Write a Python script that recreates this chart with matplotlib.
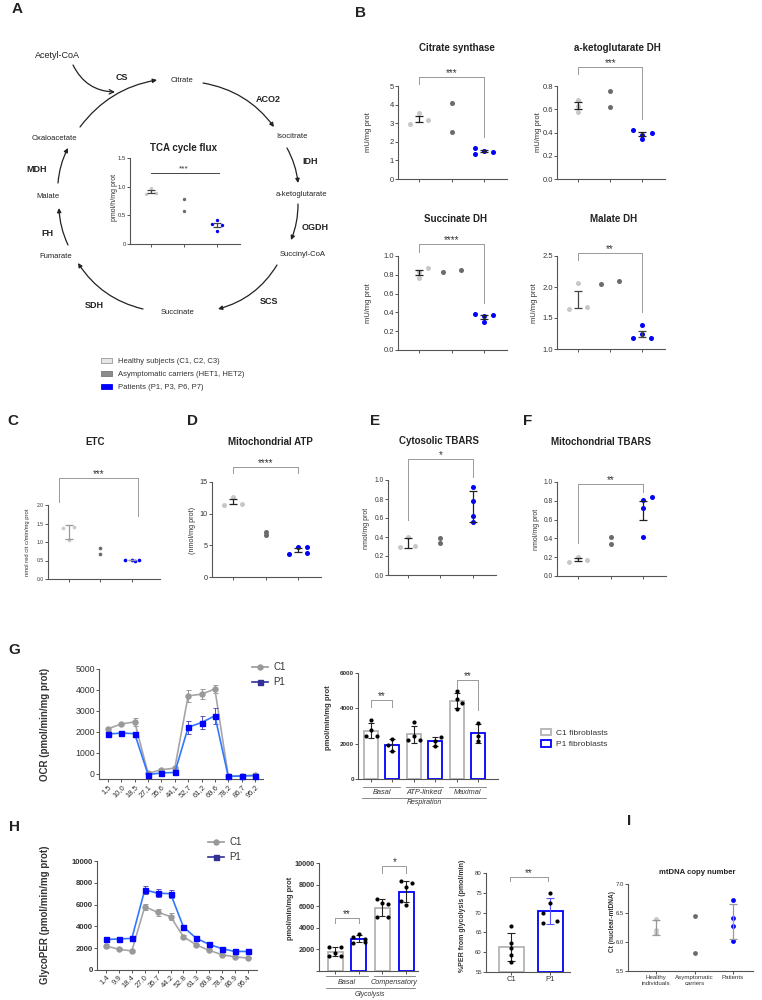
import numpy as np
import matplotlib
matplotlib.use('Agg')
import matplotlib.pyplot as plt
from matplotlib.patches import Rectangle
from matplotlib.lines import Line2D

plt.rcParams['font.family'] = ['Liberation Sans', 'DejaVu Sans']

W, H = 762, 1000

# ---------------- data ----------------
group_names = ['Healthy subjects (C1, C2, C3)', 'Asymptomatic carriers (HET1, HET2)',
               'Patients (P1, P3, P6, P7)']

tca_flux = [[0.97, 0.88, 0.89], [0.79, 0.57], [0.41, 0.35, 0.33, 0.23]]
citrate_synthase = [[2.95, 3.55, 3.15], [4.1, 2.55], [1.65, 1.35, 1.52, 1.45]]
akg_dh = [[0.68, 0.63, 0.58], [0.76, 0.62], [0.42, 0.38, 0.345, 0.40]]
succinate_dh = [[0.83, 0.77, 0.875], [0.83, 0.85], [0.38, 0.36, 0.30, 0.37]]
malate_dh = [[2.07, 1.64, 1.67], [2.05, 2.10], [1.38, 1.25, 1.18, 1.18]]
etc_activity = [[1.37, 1.40, 1.05], [0.85, 0.68], [0.51, 0.52, 0.51, 0.50]]
mito_atp = [[11.4, 12.7, 11.5], [7.1, 6.6], [3.6, 4.7, 4.8, 3.8]]
cyto_tbars = [[0.30, 0.40, 0.31], [0.39, 0.34], [0.93, 0.78, 0.62, 0.56]]
mito_tbars = [[0.15, 0.20, 0.17], [0.42, 0.34], [0.81, 0.72, 0.41, 0.84]]
mtdna = [[6.40, 6.20, 6.15], [6.44, 5.81], [6.73, 6.42, 6.27, 6.01]]
mtdna_names = ['Healthy\nindividuals', 'Asymptomatic\ncarriers', 'Patients']

ocr_time = ['1,5', '10,0', '18,5', '27,1', '35,6', '44,1', '52,7', '61,2', '69,6', '78,2', '86,7', '95,2']
ocr_c1 = [2150, 2380, 2480, 30, 200, 280, 3720, 3800, 4050, -100, -80, -60]
ocr_c1_err = [80, 50, 200, 50, 50, 50, 270, 250, 200, 50, 50, 50]
ocr_p1 = [1900, 1950, 1920, -30, 50, 70, 2220, 2450, 2770, -120, -100, -80]
ocr_p1_err = [80, 100, 100, 50, 50, 50, 300, 330, 370, 50, 50, 50]

resp_names = ['Basal', 'ATP-linked', 'Maximal']
resp_c1 = [[3340, 2770, 2430, 2430], [3230, 2210, 2210, 2430], [4980, 4530, 4300, 3960]]
resp_p1 = [[2260, 1920, 1580], [2380, 2150, 1870], [3170, 2430, 2150]]

per_time = ['1.4', '9.9', '18.4', '27.0', '35.7', '44.2', '52.8', '61.3', '69.8', '78.4', '86.9', '95.4']
per_c1 = [2200, 1900, 1750, 5800, 5300, 4900, 3050, 2300, 1800, 1400, 1200, 1100]
per_c1_err = [150, 100, 100, 300, 300, 300, 200, 100, 100, 100, 100, 100]
per_p1 = [2800, 2850, 2900, 7350, 7050, 7000, 3950, 2900, 2350, 1950, 1700, 1700]
per_p1_err = [100, 100, 100, 400, 350, 350, 200, 100, 100, 100, 100, 100]

glyc_names = ['Basal', 'Compensatory']
glyc_c1 = [[2200, 2200, 1700, 1400, 1400], [6700, 6300, 6200, 5000, 5000]]
glyc_p1 = [[3400, 3150, 3000, 2600, 2700], [8300, 8150, 7750, 6500, 6100]]

pct_names = ['C1', 'P1']
pct_glyc = [[66.7, 62.3, 61.0, 59.2, 57.6], [75.0, 72.3, 69.8, 67.3, 67.8]]

# ---------------- style ----------------
dot_colors = ['#c8c8c8', '#6b6b6b', '#0000ff']
c1_edge = '#b4b4b4'
p1_edge = '#0000ff'
txt = '#333333'

fig = plt.figure(figsize=(W / 100, H / 100), dpi=100)
ov = fig.add_axes([0, 0, 1, 1])
ov.set_xlim(0, W)
ov.set_ylim(H, 0)
ov.axis('off')


def box(l, t, r, b):
    ax = fig.add_axes([l / W, 1 - b / H, (r - l) / W, (b - t) / H])
    ax.patch.set_alpha(0)
    ax.spines['top'].set_visible(False)
    ax.spines['right'].set_visible(False)
    for s in ('left', 'bottom'):
        ax.spines[s].set_linewidth(0.8)
        ax.spines[s].set_color('#555')
    ax.tick_params(length=2, width=0.7, pad=1, colors='#555', labelcolor=txt)
    return ax


def ylab(x, y, s, fs, bold=False):
    ov.text(x, y, s, rotation=90, ha='center', va='center', fontsize=fs, color=txt,
            fontweight='bold' if bold else 'normal')


def title(x, y, s, fs=7):
    ov.text(x, y, s, ha='center', va='center', fontsize=fs, fontweight='bold', color='#222')


def letter(x, y, s):
    ov.text(x, y, s, ha='center', va='center', fontsize=11, fontweight='bold', color='#222')


def stars(ax, x, y, s, fs=7):
    ax.annotate(s, (x, y), xytext=(0, 3), textcoords='offset points', ha='center', va='center',
                fontsize=fs, color=txt, annotation_clip=False)


def dot_panel(ax, data, offs, err, ecol, size, ylim, yticks, ylabels, fs, xlim=(-0.65, 2.7)):
    for i, vals in enumerate(data):
        xs = [i + o for o in offs[i]]
        ax.scatter(xs, vals, s=size, color=dot_colors[i], linewidths=0, zorder=3, clip_on=False)
        if len(vals) > 2:
            v = np.array(vals)
            e = v.std(ddof=1)
            if err == 'sem':
                e = e / np.sqrt(len(v))
            ax.errorbar(i, v.mean(), yerr=e, fmt='none', ecolor=ecol[i], elinewidth=0.9,
                        capsize=3.2, capthick=0.9, zorder=4)
    ax.set_xlim(*xlim)
    ax.set_ylim(*ylim)
    ax.set_xticks([0, 1, 2])
    ax.set_xticklabels([])
    ax.set_yticks(yticks, ylabels, fontsize=fs)


def bracket(ax, x1, x2, y, yl, yr, s, fs=7, col='#999999'):
    ax.plot([x1, x1, x2, x2], [yl, y, y, yr], color=col, lw=0.7, clip_on=False)
    stars(ax, (x1 + x2) / 2, y, s, fs)


# ---------------- A: TCA cycle ----------------
letter(17, 9, 'A')
metabolites = [('Acetyl-CoA', 57, 56, 6.5), ('Citrate', 182, 81, 5.5), ('Isocitrate', 292, 136, 5.5),
               ('a-ketoglutarate', 301, 194, 5.5), ('Succinyl-CoA', 303, 255, 5.5),
               ('Succinate', 178, 313, 5.5), ('Fumarate', 56, 257, 5.5), ('Malate', 48, 197, 5.5),
               ('Oxaloacetate', 54, 138, 5.5)]
for s, x, y, f in metabolites:
    ov.text(x, y, s, ha='center', va='center', fontsize=f, color='#222')
enzymes = [('CS', 122, 78), ('ACO2', 268, 99), ('IDH', 310, 161), ('OGDH', 315, 228),
           ('SCS', 269, 302), ('SDH', 94, 306), ('FH', 47, 234), ('MDH', 37, 169)]
for s, x, y in enzymes:
    ov.text(x, y, s, ha='center', va='center', fontsize=6.5, fontweight='bold', color='#222')
arcs = [((80, 127), (157, 80), -0.2), ((203, 83), (274, 127), -0.2), ((287, 148), (298, 183), -0.1),
        ((298, 204), (291, 240), -0.1), ((277, 265), (218, 309), -0.2), ((143, 309), (78, 263), -0.2),
        ((68, 245), (59, 208), -0.1), ((58, 183), (68, 148), -0.1)]
for a, b, r in arcs:
    ov.annotate('', xy=b, xytext=a,
                arrowprops=dict(arrowstyle='-|>', connectionstyle='arc3,rad=%s' % r, lw=0.9,
                                color='#222', mutation_scale=6, shrinkA=0, shrinkB=0))
ov.annotate('', xy=(115, 92), xytext=(73, 65),
            arrowprops=dict(arrowstyle='->', connectionstyle='arc3,rad=0.3', lw=0.9,
                            color='#222', mutation_scale=8, shrinkA=0, shrinkB=0))

ax = box(130, 158, 240, 244)
title(183, 148, 'TCA cycle flux', 7)
dot_panel(ax, tca_flux, [[0, -0.15, 0.15], [0, 0], [0, -0.15, 0.15, 0]], 'sem',
          ['#444', '#444', '#444'], 6, (0, 1.5), [0, 0.5, 1.0, 1.5], ['0', '0.5', '1.0', '1.5'], 4.2)
ax.plot([0, 2.05], [1.24, 1.24], color='#444', lw=0.7)
stars(ax, 1.0, 1.24, '***', 6)
ylab(115, 197, 'pmol/h/mg prot', 5)

# legend for groups
handles = [Rectangle((0, 0), 1, 1, facecolor='#e6e6e6', edgecolor='#999', lw=0.6),
           Rectangle((0, 0), 1, 1, facecolor='#8c8c8c', edgecolor='#777', lw=0.6),
           Rectangle((0, 0), 1, 1, facecolor='#0000ff', edgecolor='#0000ff', lw=0.6)]
fig.legend(handles, group_names, loc='upper left', bbox_to_anchor=(94 / W, 1 - 351 / H),
           frameon=False, fontsize=5.5, handlelength=1.4, handleheight=0.7, labelspacing=0.75,
           handletextpad=0.8, labelcolor=txt)

# ---------------- B ----------------
letter(360, 13, 'B')
ax = box(398, 86, 507, 179)
title(457, 48, 'Citrate synthase')
dot_panel(ax, citrate_synthase, [[-0.28, 0, 0.28], [0, 0], [-0.28, -0.28, 0, 0.28]], 'sem',
          ['#222'] * 3, 13, (0, 5), range(6), [str(i) for i in range(6)], 5.5)
bracket(ax, 0, 2, 5.48, 5.1, 2.26, '***')
ylab(368, 132, 'mU/mg prot', 5.5)

ax = box(557, 86, 665, 179)
title(617, 48, 'a-ketoglutarate DH')
yt = [0, 0.2, 0.4, 0.6, 0.8]
dot_panel(ax, akg_dh, [[0, 0, 0], [0, 0], [-0.28, 0, 0, 0.3]], 'sem',
          ['#222'] * 3, 13, (0, 0.8), yt, ['%.1f' % v for v in yt], 5.5)
bracket(ax, 0, 2, 0.963, 0.903, 0.516, '***')
ylab(538, 132, 'mU/mg prot', 5.5)

ax = box(398, 256, 507, 350)
title(456, 219, 'Succinate DH')
yt = [0, 0.2, 0.4, 0.6, 0.8, 1.0]
dot_panel(ax, succinate_dh, [[0, 0, 0.28], [-0.28, 0.28], [-0.28, 0, 0, 0.28]], 'sem',
          ['#222'] * 3, 13, (0, 1.0), yt, ['%.1f' % v for v in yt], 5.5)
bracket(ax, 0, 2, 1.128, 1.043, 0.5, '****')
ylab(368, 303, 'mU/mg prot', 5.5)

ax = box(557, 256, 665, 349)
title(614, 219, 'Malate DH')
yt = [1.0, 1.5, 2.0, 2.5]
dot_panel(ax, malate_dh, [[0, -0.28, 0.28], [-0.28, 0.28], [0, 0, -0.28, 0.28]], 'sem',
          ['#444'] * 3, 13, (1.0, 2.5), yt, ['%.1f' % v for v in yt], 5.5)
bracket(ax, 0, 2, 2.548, 2.435, 1.597, '**')
ylab(534, 303, 'mU/mg prot', 5.5)

# ---------------- C - F ----------------
letter(13, 421, 'C')
ax = box(48, 505, 160, 579)
title(95, 442, 'ETC')
yt = [0, 0.5, 1.0, 1.5, 2.0]
dot_panel(ax, etc_activity, [[-0.16, 0.16, 0], [0, 0], [-0.22, 0, 0.22, 0.1]], 'sd',
          ['#999', '#999', '#999'], 7, (0, 2.0), yt, ['%.1f' % v for v in yt], 3.6, xlim=(-0.65, 2.9))
bracket(ax, -0.3, 2.2, 2.73, 2.08, 1.70, '***')
ylab(28, 542, 'nmol red cit c/min/mg prot', 4.2)

letter(193, 421, 'D')
ax = box(212, 482, 321, 577)
title(270, 442, 'Mitochondrial ATP')
dot_panel(ax, mito_atp, [[-0.28, 0, 0.28], [0, 0], [-0.28, 0, 0.28, 0.28]], 'sem',
          ['#222'] * 3, 13, (0, 15), [0, 5, 10, 15], ['0', '5', '10', '15'], 5.2)
bracket(ax, 0, 2, 17.37, 16.4, 16.4, '****')
ylab(193, 530, '(nmol/mg prot)', 5.2)

letter(375, 421, 'E')
ax = box(388, 480, 496, 575)
title(439, 441, 'Cytosolic TBARS')
yt = [0, 0.2, 0.4, 0.6, 0.8, 1.0]
dot_panel(ax, cyto_tbars, [[-0.24, 0, 0.22], [0, 0], [0, 0, 0, 0]], 'sd',
          ['#222'] * 3, 13, (0, 1.0), yt, ['%.1f' % v for v in yt], 4.8, xlim=(-0.6, 2.7))
bracket(ax, 0, 2, 1.22, 0.58, 1.03, '*')
ylab(366, 528, 'nmol/mg prot', 5)

letter(528, 421, 'F')
ax = box(557, 482, 666, 576)
title(601, 442, 'Mitochondrial TBARS')
dot_panel(ax, mito_tbars, [[-0.28, 0, 0.28], [0, 0], [0, 0, 0, 0.28]], 'sem',
          ['#222'] * 3, 13, (0, 1.0), yt, ['%.1f' % v for v in yt], 4.8)
bracket(ax, 0, 2, 0.98, 0.35, 0.89, '**')
ylab(537, 529, 'nmol/mg prot', 5)

# ---------------- G ----------------
letter(14, 650, 'G')


def kinetic(ax, c1, c1e, p1, p1e, labels, ylim, yticks, fs, bold):
    x = np.arange(len(labels))
    ax.errorbar(x, c1, yerr=c1e, color='#a6a6a6', lw=1.2, marker='o', ms=3.6, mfc='#999', mec='#999',
                ecolor='#999', elinewidth=0.7, capsize=1.8, capthick=0.7, zorder=3, clip_on=False)
    ax.errorbar(x, p1, yerr=p1e, color='#3377ff', lw=1.2, marker='s', ms=3.6, mfc='#0000ff', mec='#0000ff',
                ecolor='#5555bb', elinewidth=0.7, capsize=1.8, capthick=0.7, zorder=4, clip_on=False)
    ax.set_xticks(x, labels, rotation=45, ha='right', rotation_mode='anchor', fontsize=5.5)
    ax.set_ylim(*ylim)
    ax.set_yticks(yticks, [str(v) for v in yticks], fontsize=fs, fontweight='bold' if bold else 'normal')
    hs = [Line2D([], [], color='#999', marker='o', ms=3.6, lw=1.2),
          Line2D([], [], color='#303095', marker='s', ms=3.6, lw=1.2)]
    return hs


ax = box(99, 669, 263, 779)
hs = kinetic(ax, ocr_c1, ocr_c1_err, ocr_p1, ocr_p1_err, ocr_time, (-240, 5000),
             [0, 1000, 2000, 3000, 4000, 5000], 6.3, False)
ax.set_xlim(-0.67, 11.6)
ax.legend(hs, ['C1', 'P1'], loc='upper left', bbox_to_anchor=(0.88, 1.14), frameon=False,
          fontsize=7, handlelength=1.6, labelspacing=0.5, handletextpad=0.6, labelcolor=txt)
ylab(45, 724, 'OCR (pmol/min/mg prot)', 7, True)


def paired_bars(ax, c1, p1, c1_offs, p1_offs, width):
    for k in range(len(c1)):
        for j, (vals, offs, col) in enumerate(((c1[k], c1_offs[k], c1_edge), (p1[k], p1_offs[k], p1_edge))):
            pos = 2 * k + j
            v = np.array(vals)
            ax.bar(pos, v.mean(), width, facecolor='white', edgecolor=col, linewidth=1.3, zorder=2)
            ax.errorbar(pos, v.mean(), yerr=v.std(ddof=1), fmt='none', ecolor='#222', elinewidth=0.8,
                        capsize=2, capthick=0.8, zorder=3)
            ax.scatter([pos + o for o in offs], v, s=9, color='black', zorder=4, linewidths=0)
    ax.set_xticks(range(2 * len(c1)))
    ax.set_xticklabels([])


def group_rows(ax, names, axh, d1, d2, d3, d4, top_name, fs):
    tr = ax.get_xaxis_transform()
    for k, s in enumerate(names):
        c = 2 * k + 0.5
        ax.plot([c - 0.87, c + 0.87], [-d1 / axh] * 2, color='#777', lw=0.6, transform=tr, clip_on=False)
        ax.text(c, -d2 / axh, s, ha='center', va='center', fontsize=fs, style='italic', color=txt, transform=tr)
    last = 2 * len(names) - 1.5
    ax.plot([-0.4, last + 0.87], [-d3 / axh] * 2, color='#777', lw=0.6, transform=tr, clip_on=False)
    ax.text((last + 0.47) / 2, -d4 / axh, top_name, ha='center', va='center', fontsize=fs - 0.3,
            style='italic', color=txt, transform=tr)


ax = box(358, 673, 498, 779)
paired_bars(ax, resp_c1, resp_p1,
            [[0, 0, -0.25, 0.27], [0, -0.25, 0.27, 0], [0, 0, 0.25, 0]],
            [[0, -0.2, 0], [0.27, 0, 0], [0, 0, 0]], 0.65)
ax.set_xlim(-0.6, 5.93)
ax.set_ylim(0, 6000)
ax.set_yticks([0, 2000, 4000, 6000], ['0', '2000', '4000', '6000'], fontsize=4.6, fontweight='bold')
bracket(ax, 0, 1, 4470, 4070, 4070, '**')
bracket(ax, 4, 5, 5600, 5150, 3900, '**')
group_rows(ax, resp_names, 106, 8, 13, 19, 24, 'Respiration', 5.3)
ylab(328, 718, 'pmol/min/mg prot', 5.5, True)
bh = [Rectangle((0, 0), 1, 1, facecolor='white', edgecolor=c1_edge, lw=1.3),
      Rectangle((0, 0), 1, 1, facecolor='white', edgecolor=p1_edge, lw=1.3)]
fig.legend(bh, ['C1 fibroblasts', 'P1 fibroblasts'], loc='upper left', bbox_to_anchor=(533 / W, 1 - 721 / H),
           frameon=False, fontsize=6, handlelength=1.3, handleheight=0.8, labelspacing=0.45,
           handletextpad=0.5, labelcolor=txt)

# ---------------- H ----------------
letter(14, 827, 'H')
ax = box(97, 861, 257, 970)
hs = kinetic(ax, per_c1, per_c1_err, per_p1, per_p1_err, per_time, (0, 10000),
             [0, 2000, 4000, 6000, 8000, 10000], 5.6, True)
ax.set_xlim(-0.7, 11.7)
ax.legend(hs, ['C1', 'P1'], loc='upper left', bbox_to_anchor=(0.64, 1.3), frameon=False,
          fontsize=7, handlelength=1.6, labelspacing=0.5, handletextpad=0.6, labelcolor=txt)
ylab(45, 915, 'GlycoPER (pmol/min/mg prot)', 7, True)

ax = box(319, 863, 418, 971)
paired_bars(ax, glyc_c1, glyc_p1,
            [[-0.25, 0.25, 0, -0.25, 0.25], [-0.25, 0, 0.25, -0.25, 0.25]],
            [[0, -0.25, 0.25, -0.25, 0.25], [-0.2, 0.25, 0, -0.2, 0]], 0.63)
ax.set_xlim(-0.68, 3.5)
ax.set_ylim(0, 10000)
ax.set_yticks([0, 2000, 4000, 6000, 8000, 10000], ['', '2000', '4000', '6000', '8000', '10000'],
              fontsize=5.3, fontweight='bold')
bracket(ax, 0, 1, 4900, 4450, 4450, '**')
bracket(ax, 2, 3, 9700, 9100, 9100, '*')
group_rows(ax, glyc_names, 108, 5, 12, 17, 24, 'Glycolysis', 5.2)
ylab(290, 908, 'pmol/min/mg prot', 5.4, True)

ax = box(486, 873, 570, 972)
pct_offs = [[0, 0, 0, 0, 0], [0, 0, -0.17, -0.17, 0.18]]
for i, vals in enumerate(pct_glyc):
    v = np.array(vals)
    ax.bar(i, v.mean() - 55, 0.64, bottom=55, facecolor='white', edgecolor=[c1_edge, p1_edge][i],
           linewidth=1.3, zorder=2)
    ax.errorbar(i, v.mean(), yerr=v.std(ddof=1), fmt='none', ecolor=['#222', '#5555ff'][i],
                elinewidth=0.8, capsize=3, capthick=0.8, zorder=3)
    ax.scatter([i + o for o in pct_offs[i]], v, s=9, color='black', zorder=4, linewidths=0)
ax.set_xlim(-0.64, 1.51)
ax.set_ylim(55, 80)
ax.set_xticks([0, 1], pct_names, fontsize=5.5)
ax.set_yticks([55, 60, 65, 70, 75, 80], ['55', '60', '65', '70', '75', '80'], fontsize=4.3)
bracket(ax, -0.03, 0.95, 78.9, 77.9, 77.9, '**')
ylab(462, 916, '%PER from glycolysis (pmol/min)', 5, True)

# ---------------- I ----------------
letter(629, 821, 'I')
ax = box(628, 884, 753, 971)
title(697, 872, 'mtDNA copy number', 5.6)
dot_panel(ax, mtdna, [[0, 0, 0], [0, 0], [0, 0, 0, 0]], 'sd', ['#999'] * 3, 12, (5.5, 7.0),
          [5.5, 6.0, 6.5, 7.0], ['5.5', '6.0', '6.5', '7.0'], 4.3, xlim=(-0.73, 2.52))
ax.set_xticks([0, 1, 2], mtdna_names, fontsize=4.4)
ylab(612, 922, 'Ct (nuclear-mtDNA)', 4.7, True)

fig.savefig('out.png', dpi=100)
